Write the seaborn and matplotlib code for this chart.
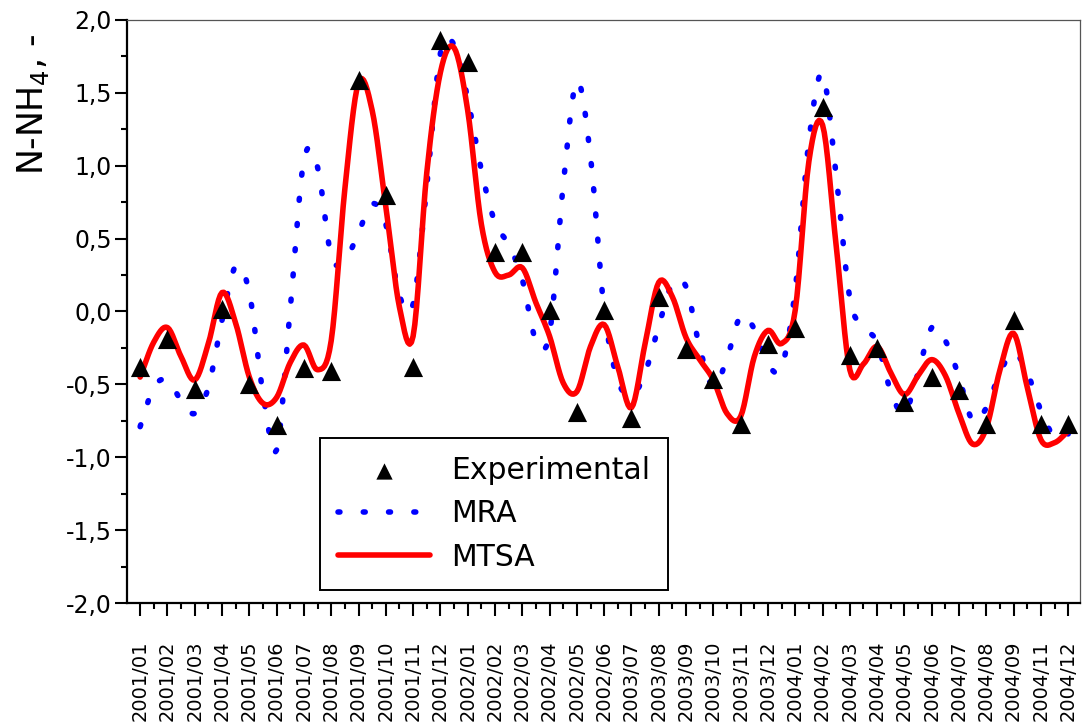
import numpy as np
import pandas as pd
import matplotlib
matplotlib.use("Agg")
import matplotlib.pyplot as plt
from matplotlib.ticker import FixedLocator, MultipleLocator
import seaborn as sns

# ---------------- data ----------------
months = ["2001/01", "2001/02", "2001/03", "2001/04", "2001/05", "2001/06",
          "2001/07", "2001/08", "2001/09", "2001/10", "2001/11", "2001/12",
          "2002/01", "2002/02", "2002/03", "2002/04", "2002/05", "2002/06",
          "2003/07", "2003/08", "2003/09", "2003/10", "2003/11", "2003/12",
          "2004/01", "2004/02", "2004/03", "2004/04", "2004/05", "2004/06",
          "2004/07", "2004/08", "2004/09", "2004/11", "2004/12"]

experimental = [-0.38, -0.19, -0.53, 0.02, -0.50, -0.78, -0.39, -0.41, 1.59, 0.80,
                -0.38, 1.86, 1.71, 0.41, 0.41, 0.01, -0.69, 0.01, -0.73, 0.10,
                -0.26, -0.46, -0.77, -0.22, -0.11, 1.40, -0.30, -0.25, -0.62, -0.45,
                -0.54, -0.77, -0.06, -0.77, -0.77]

# model curves read at half-month steps (positions 0, 0.5, 1, ... 34)
curve_pos = [i * 0.5 for i in range(69)]

mra = [-0.79, -0.52, -0.47, -0.61, -0.70, -0.52, -0.06, 0.31, 0.13, -0.56,
       -0.95, 0.02, 1.04, 0.99, 0.38, 0.35, 0.54, 0.74, 0.60, 0.11,
       0.05, 0.86, 1.77, 1.83, 1.46, 0.97, 0.61, 0.46, 0.22, -0.20,
       -0.15, 0.87, 1.58, 1.06, 0.01, -0.47, -0.58, -0.42, -0.10, 0.19,
       0.17, -0.25, -0.52, -0.32, -0.03, -0.12, -0.36, -0.38, 0.15, 1.17,
       1.63, 0.93, 0.09, -0.11, -0.21, -0.55, -0.70, -0.42, -0.11, -0.20,
       -0.45, -0.75, -0.66, -0.42, -0.28, -0.42, -0.68, -0.86, -0.84]

mtsa = [-0.45, -0.21, -0.11, -0.31, -0.47, -0.22, 0.13, -0.08, -0.45, -0.63,
        -0.59, -0.35, -0.23, -0.40, -0.20, 0.84, 1.57, 1.38, 0.72, 0.03,
        -0.17, 0.95, 1.64, 1.81, 1.38, 0.60, 0.27, 0.25, 0.30, 0.06,
        -0.17, -0.49, -0.55, -0.24, -0.09, -0.38, -0.66, -0.22, 0.20, 0.10,
        -0.18, -0.33, -0.47, -0.70, -0.72, -0.31, -0.13, -0.22, 0.01, 1.03,
        1.28, 0.45, -0.40, -0.36, -0.24, -0.42, -0.57, -0.44, -0.33, -0.44,
        -0.70, -0.91, -0.80, -0.40, -0.15, -0.52, -0.88, -0.90, -0.82]

y_ticks = [-2.0, -1.5, -1.0, -0.5, 0.0, 0.5, 1.0, 1.5, 2.0]
y_tick_labels = ["-2,0", "-1,5", "-1,0", "-0,5", "0,0", "0,5", "1,0", "1,5", "2,0"]


def smooth_path(xs, ys, n=8):
    """Catmull-Rom rendering path through the read points (drawing only)."""
    xs = np.asarray(xs, float)
    ys = np.asarray(ys, float)
    p = np.concatenate([[2 * ys[0] - ys[1]], ys, [2 * ys[-1] - ys[-2]]])
    ox, oy = [], []
    for k in range(len(ys) - 1):
        p0, p1, p2, p3 = p[k], p[k + 1], p[k + 2], p[k + 3]
        t = np.linspace(0, 1, n, endpoint=False)
        yy = 0.5 * ((2 * p1) + (-p0 + p2) * t + (2 * p0 - 5 * p1 + 4 * p2 - p3) * t ** 2
                    + (-p0 + 3 * p1 - 3 * p2 + p3) * t ** 3)
        xx = xs[k] + (xs[k + 1] - xs[k]) * t
        ox.extend(xx)
        oy.extend(yy)
    ox.append(xs[-1])
    oy.append(ys[-1])
    return np.array(ox), np.array(oy)


# ---------------- style ----------------
sns.set_style("white")
plt.rcParams["font.family"] = ["DejaVu Sans"]
plt.rcParams["axes.unicode_minus"] = False
plt.rcParams["mathtext.default"] = "regular"
for key in ["text.color", "axes.labelcolor", "xtick.color", "ytick.color"]:
    plt.rcParams[key] = "black"

fig = plt.figure(figsize=(10.82, 7.26), dpi=100)
ax = fig.add_axes([0.1174, 0.1694, 0.8807, 0.8031])

pos = np.arange(len(months))
df_exp = pd.DataFrame({"pos": pos, "val": experimental})

mx, my = smooth_path(curve_pos, mra)
tx, ty = smooth_path(curve_pos, mtsa)
df_mra = pd.DataFrame({"x": mx, "y": my})
df_mtsa = pd.DataFrame({"x": tx, "y": ty})

sns.lineplot(data=df_mra, x="x", y="y", ax=ax, sort=False, color="#0000ff",
             linewidth=4.0, linestyle=(0, (0.35, 4.2)), dash_capstyle="round",
             label="MRA", zorder=2)
sns.lineplot(data=df_mtsa, x="x", y="y", ax=ax, sort=False, color="#ff0000",
             linewidth=4.0, label="MTSA", zorder=3, solid_capstyle="round")
sns.scatterplot(data=df_exp, x="pos", y="val", ax=ax, marker="^", s=190,
                color="black", linewidth=0, label="Experimental", zorder=4)

ax.set_xlim(-0.48, 34.43)
ax.set_ylim(-2.0, 2.0)

ax.xaxis.set_major_locator(FixedLocator(pos))
ax.set_xticklabels(months, rotation=90, fontsize=14)
ax.xaxis.set_minor_locator(MultipleLocator(0.5))
ax.set_yticks(y_ticks)
ax.set_yticklabels(y_tick_labels, fontsize=17)
ax.yaxis.set_minor_locator(MultipleLocator(0.25))

ax.tick_params(axis="both", which="major", direction="out", length=9, width=1.5,
               color="black", bottom=True, left=True, top=False, right=False)
ax.tick_params(axis="x", which="major", pad=18)
ax.tick_params(axis="y", which="major", pad=2)
ax.tick_params(axis="both", which="minor", direction="out", length=4.5, width=1.5,
               color="black", bottom=True, left=True, top=False, right=False)

for side in ["left", "bottom"]:
    ax.spines[side].set_color("black")
    ax.spines[side].set_linewidth(1.6)
for side in ["top", "right"]:
    ax.spines[side].set_color("#555555")
    ax.spines[side].set_linewidth(0.9)

ax.set_xlabel("")
ax.set_ylabel("N-NH$_4$, -", fontsize=25)
ax.yaxis.set_label_coords(-0.08, 0.856)

handles, labels = ax.get_legend_handles_labels()
order = [labels.index("Experimental"), labels.index("MRA"), labels.index("MTSA")]
leg = ax.legend([handles[i] for i in order], [labels[i] for i in order],
                loc="upper left", bbox_to_anchor=(0.2025, 0.283), fontsize=21.5,
                frameon=True, fancybox=False, edgecolor="black", framealpha=1,
                borderpad=0.6, handlelength=3.1, handletextpad=0.7,
                labelspacing=0.48, borderaxespad=0.0, markerscale=0.85)
leg.get_frame().set_linewidth(1.4)

fig.savefig("out.png", dpi=100)
